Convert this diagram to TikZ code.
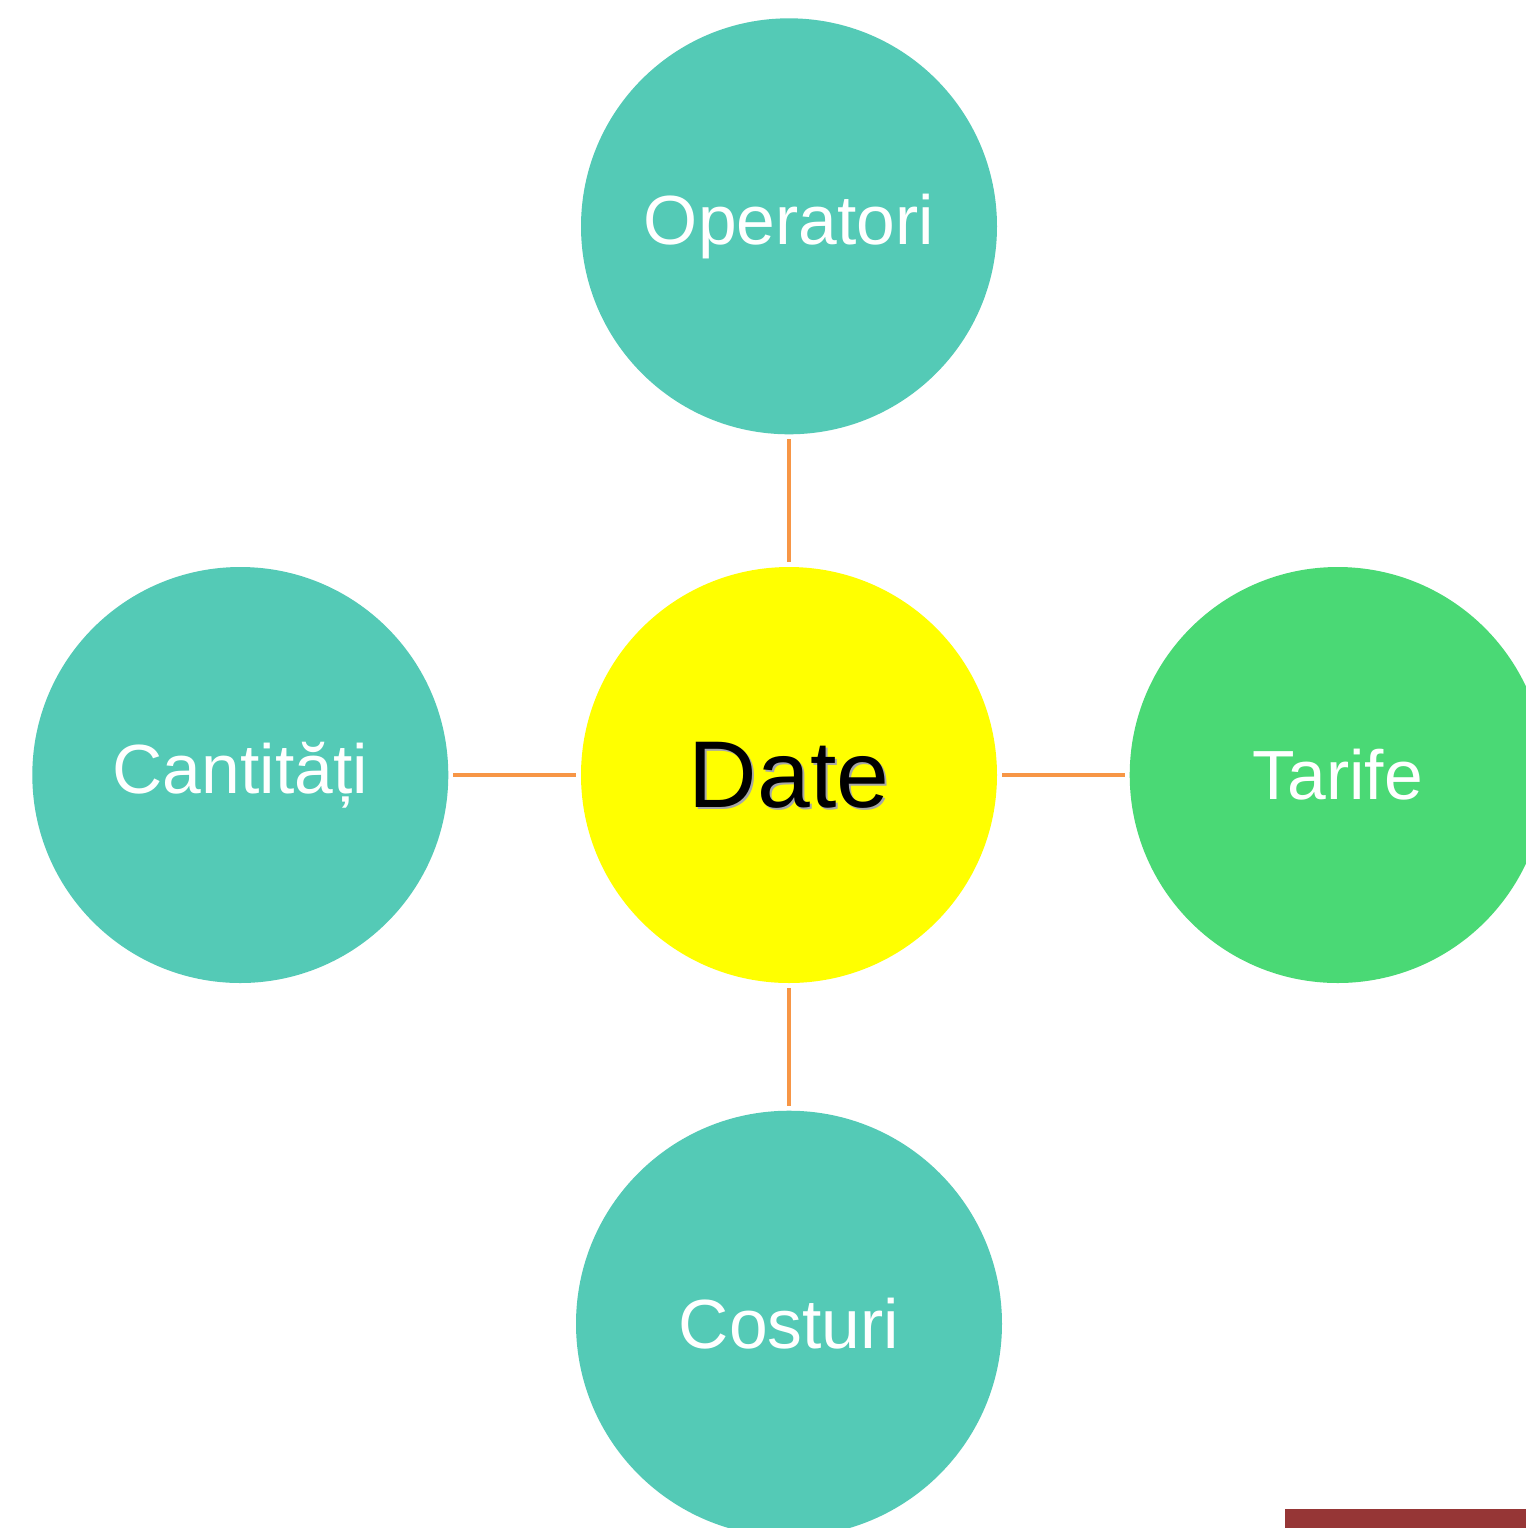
\documentclass[tikz,border=0pt]{standalone}
\usepackage{fontspec}
\setmainfont{Liberation Sans}
\usetikzlibrary{positioning}
\definecolor{bubbleteal}{HTML}{54CAB6}
\definecolor{bubblegreen}{HTML}{4AD975}
\definecolor{hubyellow}{HTML}{FFFF00}
\definecolor{linkorange}{HTML}{F79646}
\definecolor{barred}{HTML}{963636}
\tikzset{
  bubble/.style = {shape=circle, minimum size=8.32cm, inner sep=0pt,
                   fill=bubbleteal, text=white,
                   font=\fontsize{39.6}{44}\selectfont},
  hub/.style    = {bubble, fill=hubyellow, text=black,
                   font=\fontsize{54}{60}\selectfont},
  leaf/.style   = {bubble, fill=bubblegreen},
  link/.style   = {draw=linkorange, line width=2.6pt,
                   shorten <=2.5pt, shorten >=2.5pt}
}
\begin{document}
\begin{tikzpicture}[node distance=2.64cm]
  \clip (0,0) rectangle (30.52,-30.56);
  \fill[white] (0,0) rectangle (30.52,-30.56);
  % hub and its four bubbles
  \node[hub] (date) at (15.78,-15.5) {};
  \node[bubble, above=of date]             (operatori) {Operatori};
  \node[bubble, left=of date]              (cantitati) {Cantități};
  \node[leaf,   right=of date]             (tarife)    {Tarife};
  \node[bubble, below=2.54cm of date,
        minimum size=8.52cm]               (costuri)   {Costuri};
  \node[text=black!35, font=\fontsize{54}{60}\selectfont]
    (dateshadow) at ([shift={(0.04,-0.04)}]date.center) {Date};
  \node[text=black, font=\fontsize{54}{60}\selectfont]
    (datelabel) at (date.center) {Date};
  \foreach \x in {operatori, cantitati, tarife, costuri}
    \draw[link] (\x) -- (date);
  \fill[barred] (25.7,-30.18) rectangle (30.52,-30.56);
\end{tikzpicture}
\end{document}
